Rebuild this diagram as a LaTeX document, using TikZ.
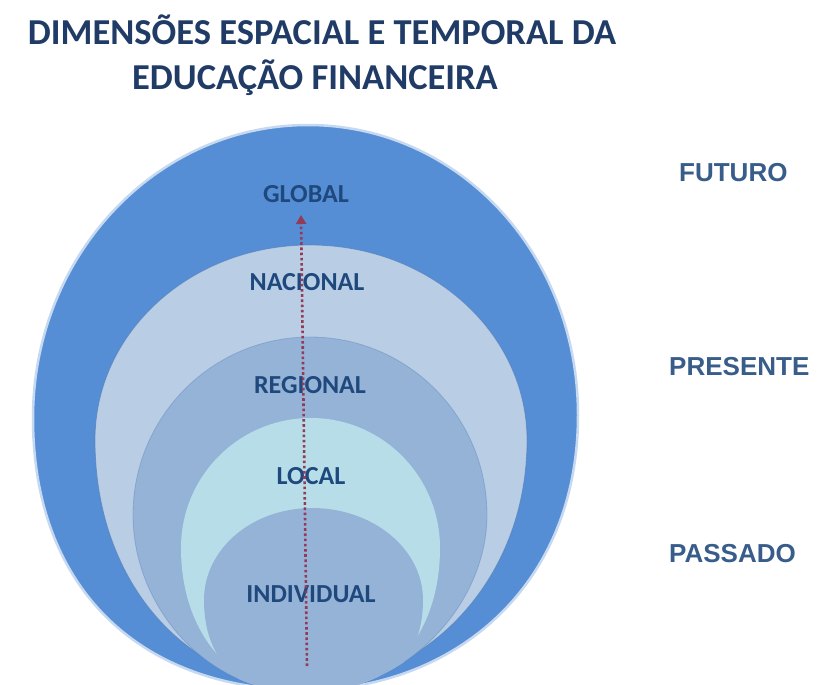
\documentclass[tikz,border=0pt]{standalone}
\usepackage{fontspec}
\setmainfont{Carlito}
\newfontfamily\arialf{Liberation Sans}
\usetikzlibrary{arrows.meta}
\definecolor{gdark}{HTML}{558ED5}
\definecolor{glowc}{HTML}{C6D9F1}
\definecolor{nlight}{HTML}{B9CDE5}
\definecolor{rmed}{HTML}{95B3D7}
\definecolor{lcyan}{HTML}{B7DEE8}
\definecolor{edgec}{HTML}{4F7BB5}
\definecolor{lbltext}{HTML}{1F497D}
\definecolor{sidetext}{HTML}{385D8A}
\definecolor{titletext}{HTML}{1F3B66}
\definecolor{arrowc}{HTML}{933A56}
\tikzset{
  lbl/.style={font=\bfseries\fontsize{26}{28}\selectfont, text=lbltext, anchor=base, inner sep=0pt},
  side/.style={font=\arialf\bfseries\fontsize{26}{28}\selectfont, text=sidetext, anchor=base west, inner sep=0pt},
  ttl/.style={font=\bfseries\fontsize{36.5}{40}\selectfont, text=titletext, anchor=base, inner sep=0pt},
  ring/.style={draw=edgec, draw opacity=0.35, line width=0.8pt},
}
\begin{document}
\begin{tikzpicture}[x=1pt,y=-1pt]
\useasboundingbox (0,0) rectangle (820,685);
\fill[white] (0,0) rectangle (820,685);
\begin{scope}
\clip (0,0) rectangle (820,685);
% GLOBAL
\path[fill=gdark, draw=glowc, line width=2.5pt]
  (308,125) .. controls (156,125) and (33,256) .. (33,418)
  .. controls (33,593) and (145,690) .. (305,690)
  .. controls (450,690) and (578,590) .. (578,415)
  .. controls (578,253) and (458,125) .. (308,125) -- cycle;
% NACIONAL
\path[fill=nlight, draw=edgec, draw opacity=0.6, line width=0.8pt]
  (310,245) .. controls (191,245) and (95,332) .. (95,440)
  .. controls (95,585) and (190,686) .. (305,686)
  .. controls (420,686) and (527,585) .. (527,440)
  .. controls (527,332) and (429,245) .. (310,245) -- cycle;
% REGIONAL
\path[fill=rmed, ring]
  (310,337) .. controls (212,337) and (133,417) .. (133,515)
  .. controls (133,605) and (205,693) .. (305,693)
  .. controls (405,693) and (487,605) .. (487,515)
  .. controls (487,417) and (408,337) .. (310,337) -- cycle;
\begin{scope}
\clip
  (310,337) .. controls (212,337) and (133,417) .. (133,515)
  .. controls (133,605) and (205,693) .. (305,693)
  .. controls (405,693) and (487,605) .. (487,515)
  .. controls (487,417) and (408,337) .. (310,337) -- cycle;
% LOCAL
\path[fill=lcyan]
  (311,418) .. controls (239,418) and (181,476) .. (181,548)
  .. controls (181,634) and (233,695) .. (311,695)
  .. controls (389,695) and (440,634) .. (440,548)
  .. controls (440,476) and (382,418) .. (311,418) -- cycle;
% INDIVIDUAL
\path[fill=rmed]
  (312,508) .. controls (252,508) and (204,549) .. (204,600)
  .. controls (204,670) and (252,700) .. (312,700)
  .. controls (372,700) and (423,670) .. (423,600)
  .. controls (423,549) and (373,508) .. (312,508) -- cycle;
\end{scope}
\end{scope}
% labels
\node[lbl] (global) at (306,202) {GLOBAL};
\node[lbl] (nacional) at (307,290) {NACIONAL};
\node[lbl] (regional) at (310,393) {REGIONAL};
\node[lbl] (local) at (311,484) {LOCAL};
\node[lbl] (individual) at (311,602) {INDIVIDUAL};
% arrow
\coordinate (arrS) at (307,666);
\coordinate (arrE) at (301,215);
\draw[arrowc, line width=2.6pt, dash pattern=on 2.6pt off 2.6pt,
  -{Triangle[length=9pt,width=10pt]}] (arrS) -- (arrE);
% side labels
\node[side] (futuro) at (679,181) {FUTURO};
\node[side] (presente) at (669,375) {PRESENTE};
\node[side] (passado) at (669,562) {PASSADO};
% title
\node[ttl] (t1) at (322,45) {DIMENSÕES ESPACIAL E TEMPORAL DA};
\node[ttl] (t2) at (315,90) {EDUCAÇÃO FINANCEIRA};
\end{tikzpicture}
\end{document}
